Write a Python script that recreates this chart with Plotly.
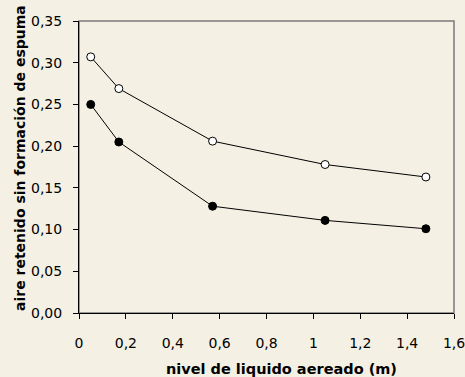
import plotly.graph_objects as go

# Data
nivel = [0.05, 0.17, 0.57, 1.05, 1.48]
serie_abierta = [0.307, 0.269, 0.206, 0.178, 0.163]
serie_rellena = [0.250, 0.205, 0.128, 0.111, 0.101]

x_tickvals = [0, 0.2, 0.4, 0.6, 0.8, 1.0, 1.2, 1.4, 1.6]
x_ticktext = ["0", "0,2", "0,4", "0,6", "0,8", "1", "1,2", "1,4", "1,6"]
y_tickvals = [0, 0.05, 0.10, 0.15, 0.20, 0.25, 0.30, 0.35]
y_ticktext = ["0,00", "0,05", "0,10", "0,15", "0,20", "0,25", "0,30", "0,35"]

x_title = "nivel de liquido aereado (m)"
y_title = "aire retenido sin formación de espuma"

BG = "#f4f0e4"
FONT = "DejaVu Sans"

fig = go.Figure()
fig.add_trace(go.Scatter(
    x=nivel, y=serie_abierta, mode="lines+markers",
    line=dict(color="black", width=1),
    marker=dict(size=8, color="white", line=dict(color="black", width=1)),
    showlegend=False, cliponaxis=False))
fig.add_trace(go.Scatter(
    x=nivel, y=serie_rellena, mode="lines+markers",
    line=dict(color="black", width=1),
    marker=dict(size=8, color="black", line=dict(color="black", width=1)),
    showlegend=False, cliponaxis=False))

# gray frame (top/right) under the black axis lines
fig.add_shape(type="rect", xref="paper", yref="paper", x0=0, y0=0, x1=1, y1=1,
              line=dict(color="#7a7a7a", width=1.5), layer="below")

fig.update_layout(
    width=465, height=377,
    margin=dict(l=79, r=11, t=21, b=64),
    paper_bgcolor=BG, plot_bgcolor=BG,
    font=dict(family=FONT, size=14, color="black"),
    xaxis=dict(range=[0, 1.6], tickvals=x_tickvals, ticktext=x_ticktext,
               showgrid=False, zeroline=False, showline=True, linecolor="black",
               linewidth=1, ticks="outside", ticklen=5, tickcolor="black",
               ticklabelstandoff=12, ticklabeloverflow="allow", automargin=False,
               tickfont=dict(size=14, family=FONT)),
    yaxis=dict(range=[0, 0.35], tickvals=y_tickvals, ticktext=y_ticktext,
               showgrid=False, zeroline=False, showline=True, linecolor="black",
               linewidth=1, ticks="outside", ticklen=5, tickcolor="black",
               ticklabelstandoff=8, ticklabeloverflow="allow", automargin=False,
               tickfont=dict(size=14, family=FONT)),
    annotations=[
        dict(text="<b>" + x_title + "</b>", xref="paper", yref="paper",
             x=(281.5 - 79) / 375, y=-(369 - 313.3) / 292.6,
             xanchor="center", yanchor="middle", showarrow=False,
             font=dict(family=FONT, size=14.5, color="black")),
        dict(text="<b>" + y_title + "</b>", xref="paper", yref="paper",
             x=-(79 - 20) / 375, y=0.0, textangle=-90,
             xanchor="center", yanchor="bottom", showarrow=False,
             font=dict(family=FONT, size=14, color="black")),
    ],
)

fig.write_html("out.html",
               config={"displayModeBar": False},
               post_script="document.body.style.margin='0';document.body.style.overflow='hidden';")
